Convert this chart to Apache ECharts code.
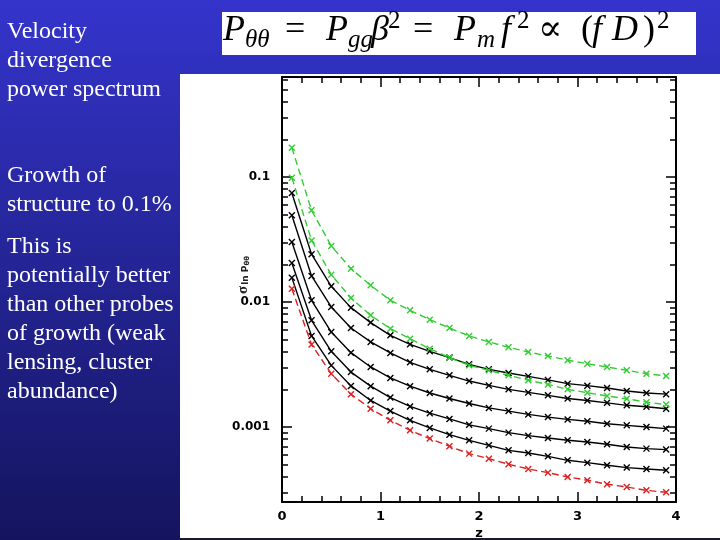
<!DOCTYPE html>
<html>
<head>
<meta charset="utf-8">
<script src="https://cdn.jsdelivr.net/npm/echarts@6/dist/echarts.min.js"></script>
<style>
  html, body { margin: 0; padding: 0; }
  #chart { width: 720px; height: 540px; }
</style>
</head>
<body>
<div id="chart"></div>
<script>
// redshift samples
var zValues = [0.1, 0.3, 0.5, 0.7, 0.9, 1.1, 1.3, 1.5, 1.7, 1.9, 2.1, 2.3, 2.5, 2.7, 2.9, 3.1, 3.3, 3.5, 3.7, 3.9];

// sigma(ln P_theta theta)
var greenTop = [0.1717, 0.0541, 0.0281, 0.01848, 0.01359, 0.01031, 0.00857, 0.00722, 0.00619, 0.00535, 0.00479, 0.00434, 0.00398, 0.00370, 0.00342, 0.00321, 0.00302, 0.00284, 0.00267, 0.00256];
var greenLow = [0.0988, 0.0311, 0.01654, 0.01076, 0.00782, 0.00612, 0.00509, 0.00423, 0.00359, 0.00311, 0.00284, 0.00259, 0.00236, 0.00219, 0.00200, 0.00188, 0.00177, 0.00168, 0.00158, 0.00151];
var black1 = [0.0745, 0.0241, 0.01335, 0.00901, 0.00684, 0.00541, 0.00458, 0.00403, 0.00359, 0.00317, 0.00289, 0.00270, 0.00254, 0.00238, 0.00222, 0.00214, 0.00205, 0.00194, 0.00187, 0.00183];
var black2 = [0.0494, 0.01614, 0.00912, 0.00619, 0.00479, 0.00391, 0.00329, 0.00289, 0.00259, 0.00233, 0.00215, 0.00200, 0.00189, 0.00179, 0.00169, 0.00163, 0.00156, 0.00149, 0.00145, 0.00140];
var black3 = [0.0302, 0.01031, 0.00575, 0.00393, 0.00302, 0.00247, 0.00212, 0.00187, 0.00169, 0.00154, 0.00142, 0.00134, 0.00126, 0.00120, 0.00115, 0.00111, 0.00106, 0.00103, 0.00100, 0.00097];
var black4 = [0.0205, 0.00713, 0.00403, 0.00275, 0.00212, 0.00172, 0.00146, 0.00129, 0.00116, 0.00104, 0.00097, 0.000901, 0.000852, 0.000817, 0.000782, 0.000759, 0.000727, 0.000692, 0.000671, 0.000659];
var black5 = [0.01566, 0.00535, 0.00311, 0.00213, 0.00163, 0.00134, 0.00113, 0.000982, 0.000868, 0.000782, 0.000713, 0.000650, 0.000619, 0.000582, 0.000541, 0.000518, 0.000494, 0.000473, 0.000461, 0.000450];
var redLow = [0.01278, 0.00456, 0.00267, 0.00183, 0.00140, 0.00113, 0.000940, 0.000807, 0.000700, 0.000612, 0.000558, 0.000503, 0.000461, 0.000431, 0.000398, 0.000375, 0.000348, 0.000331, 0.000311, 0.000300];

// tick labels
var yLabels = ['0.1', '0.01', '0.001'];
var yMinorTicks = [0.0003, 0.0004, 0.0005, 0.0006, 0.0007, 0.0008, 0.0009,
                   0.002, 0.003, 0.004, 0.005, 0.006, 0.007, 0.008, 0.009,
                   0.02, 0.03, 0.04, 0.05, 0.06, 0.07, 0.08, 0.09,
                   0.2, 0.3, 0.4, 0.5, 0.6];
var xLabels = ['0', '1', '2', '3', '4'];

var yMin = 0.000251, yMax = 0.631;
var logMin = Math.log10(yMin), logMax = Math.log10(yMax);

var chart = echarts.init(document.getElementById('chart'));

function pairs(ys) {
    return zValues.map(function (z, i) { return [z, ys[i]]; });
}

var crossSymbol = 'path://M0,0L10,10M10,0L0,10';

function makeSeries(name, ys, color, dashed) {
    return {
        name: name,
        type: 'line',
        data: pairs(ys),
        symbol: crossSymbol,
        symbolSize: 6,
        showAllSymbol: true,
        itemStyle: { color: color, borderColor: color, borderWidth: 1.4 },
        lineStyle: { color: color, width: 1.4, type: dashed ? [7, 4] : 'solid' },
        emphasis: { disabled: true },
        animation: false,
        z: dashed ? 3 : 2
    };
}

var font = 'DejaVu Sans';
var serif = '"Liberation Serif", "DejaVu Serif", serif';

function majorY(pos, labels) {
    return {
        type: 'log',
        position: pos,
        min: yMin,
        max: yMax,
        logBase: 10,
        axisLine: { show: true, onZero: false, lineStyle: { color: '#000', width: 2 } },
        axisTick: { show: true, inside: true, length: 10, lineStyle: { color: '#000', width: 1.5 } },
        axisLabel: {
            show: labels,
            margin: 12,
            color: '#000',
            fontFamily: font,
            fontWeight: 'bold',
            fontSize: 12,
            formatter: function (v) {
                var lv = Math.log10(v);
                for (var i = 0; i < yLabels.length; i++) {
                    if (Math.abs(Math.log10(parseFloat(yLabels[i])) - lv) < 0.01) return yLabels[i];
                }
                return '';
            }
        },
        splitLine: { show: false }
    };
}

function minorY(pos) {
    return {
        type: 'value',
        position: pos,
        min: logMin,
        max: logMax,
        axisLine: { show: false, onZero: false },
        axisLabel: { show: false },
        splitLine: { show: false },
        axisTick: {
            show: true,
            inside: true,
            length: 6,
            customValues: yMinorTicks.map(function (v) { return Math.log10(v); }),
            lineStyle: { color: '#000', width: 1.5 }
        }
    };
}

function xAxisDef(pos, labels) {
    return {
        type: 'value',
        position: pos,
        min: 0,
        max: 4,
        interval: 1,
        axisLine: { show: true, onZero: false, lineStyle: { color: '#000', width: 2 } },
        axisTick: { show: true, inside: true, length: 10, lineStyle: { color: '#000', width: 1.5 } },
        minorTick: { show: true, splitNumber: 5, length: 6, lineStyle: { color: '#000', width: 1.5 } },
        axisLabel: {
            show: labels,
            margin: 8,
            color: '#000',
            fontFamily: font,
            fontWeight: 'bold',
            fontSize: 13,
            formatter: function (v) { return xLabels[Math.round(v)]; }
        },
        splitLine: { show: false },
        minorSplitLine: { show: false },
        name: labels ? 'z' : '',
        nameLocation: 'middle',
        nameGap: 25,
        nameMoveOverlap: false,
        nameTextStyle: { color: '#000', fontFamily: font, fontWeight: 'bold', fontSize: 13 }
    };
}

// the slide text beside the plot
var leftText = [
    { text: 'Velocity\ndivergence\npower spectrum', y: 17 },
    { text: 'Growth of\nstructure to 0.1%', y: 161 },
    { text: 'This is\npotentially better\nthan other probes\nof growth (weak\nlensing, cluster\nabundance)', y: 232 }
];

var mainFont = 'italic 36px ' + serif;
var mainUp = '36px ' + serif;
var subFont = 'italic 25px ' + serif;
var supFont = '25px ' + serif;
var formulaParts = [
    ['P', 223, 31, mainFont], ['θθ', 245, 40, subFont], ['=', 285, 31, mainUp],
    ['P', 326, 31, mainFont], ['gg', 348, 40, subFont], ['β', 371, 31, mainFont], ['2', 388, 21, supFont],
    ['=', 413, 31, mainUp],
    ['P', 454, 31, mainFont], ['m', 477, 40, subFont], ['f', 501, 31, mainFont], ['2', 517, 21, supFont],
    ['∝', 538, 31, mainUp],
    ['(', 581, 31, mainUp], ['f', 592, 31, mainFont], ['D', 612, 31, mainFont], [')', 643, 31, mainUp], ['2', 657, 21, supFont]
];

var graphics = [
    { type: 'rect', shape: { x: 180, y: 74, width: 540, height: 464 }, style: { fill: '#fff' }, z: -10, silent: true },
    { type: 'rect', shape: { x: 180, y: 538, width: 540, height: 2 }, style: { fill: '#1a1a2a' }, z: -10, silent: true },
    { type: 'rect', shape: { x: 222, y: 12, width: 474, height: 43 }, style: { fill: '#fff' }, z: -10, silent: true },
    // y axis title, sigma_{ln P_theta theta}
    {
        type: 'text', x: 243, y: 275, rotation: Math.PI / 2, silent: true,
        style: {
            text: '{s|σ}{l|ln P}{t|θθ}', align: 'center', verticalAlign: 'middle',
            rich: {
                s: { fontSize: 15, fontWeight: 'bold', fill: '#222', fontFamily: serif },
                l: { fontSize: 9, fontWeight: 'bold', fill: '#222', fontFamily: font, padding: [6, 0, 0, 1] },
                t: { fontSize: 7, fontWeight: 'bold', fill: '#222', fontFamily: font, padding: [9, 0, 0, 0] }
            }
        }
    }
];
leftText.forEach(function (t) {
    graphics.push({
        type: 'text', x: 7, y: t.y, silent: true,
        style: { text: t.text, fill: '#fff', font: '24px ' + serif, lineHeight: 29, verticalAlign: 'top' }
    });
});
formulaParts.forEach(function (p) {
    graphics.push({
        type: 'text', x: p[1], y: p[2], silent: true,
        style: { text: p[0], fill: '#000', font: p[3], verticalAlign: 'middle', align: 'left' }
    });
});

var option = {
    backgroundColor: {
        type: 'linear', x: 0, y: 0, x2: 0, y2: 1,
        colorStops: [{ offset: 0, color: '#3434cc' }, { offset: 1, color: '#14145e' }]
    },
    animation: false,
    grid: { left: 282, right: 44, top: 77, bottom: 38, outerBoundsMode: 'none' },
    graphic: graphics,
    xAxis: [xAxisDef('bottom', true), xAxisDef('top', false)],
    yAxis: [majorY('left', true), majorY('right', false), minorY('left'), minorY('right')],
    series: [
        makeSeries('green top', greenTop, '#33cc33', true),
        makeSeries('green low', greenLow, '#33cc33', true),
        makeSeries('black 1', black1, '#000', false),
        makeSeries('black 2', black2, '#000', false),
        makeSeries('black 3', black3, '#000', false),
        makeSeries('black 4', black4, '#000', false),
        makeSeries('black 5', black5, '#000', false),
        makeSeries('red', redLow, '#dd2222', true)
    ]
};

chart.setOption(option);
</script>
</body>
</html>
